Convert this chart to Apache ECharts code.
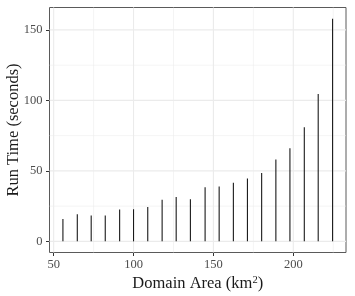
<!DOCTYPE html>
<html>
<head>
<meta charset="utf-8">
<script src="https://cdn.jsdelivr.net/npm/echarts@6/dist/echarts.min.js"></script>
<style>
html,body{margin:0;padding:0;background:#fff;}
#chart{width:355px;height:296px;}
</style>
</head>
<body>
<div id="chart"></div>
<script>
// Data
var domainArea = [55.8, 64.8, 73.5, 82.3, 91.3, 100.0, 108.9, 117.9, 126.7, 135.6, 144.8, 153.6, 162.5, 171.3, 180.2, 189.1, 197.9, 206.9, 215.6, 224.6];
var runTime    = [15.8, 19.2, 18.3, 18.3, 22.6, 22.8, 24.3, 29.6, 31.4, 29.9, 38.4, 38.9, 41.5, 44.6, 48.5, 58.0, 66.0, 81.0, 104.6, 158.0];

// Tick / grid values
var xTicks = [50, 100, 150, 200];
var xMinor = [75, 125, 175, 225];
var yTicks = [0, 50, 100, 150];
var yMinor = [25, 75, 125];

var xMin = 47.4, xMax = 233.0;
var yMin = -7.9, yMax = 165.9;

var chart = echarts.init(document.getElementById('chart'), null, {renderer: 'canvas'});

var points = domainArea.map(function (x, i) { return [x, runTime[i]]; });

// [value, direction (0 = vertical line at x, 1 = horizontal line at y), width]
var gridItems = [];
xMinor.forEach(function (v) { gridItems.push([v, 0, 0.55]); });
yMinor.forEach(function (v) { gridItems.push([v, 1, 0.55]); });
xTicks.forEach(function (v) { gridItems.push([v, 0, 1.1]); });
yTicks.forEach(function (v) { gridItems.push([v, 1, 1.1]); });

var font = '"Liberation Serif", "DejaVu Serif", serif';

chart.setOption({
  animation: false,
  backgroundColor: '#ffffff',
  grid: {left: 49.5, right: 9, top: 7.5, bottom: 43.5, containLabel: false, outerBoundsMode: 'none',
         show: true, borderColor: '#5a5a5a', borderWidth: 1, backgroundColor: '#fff'},
  xAxis: {
    type: 'value', min: xMin, max: xMax,
    name: '{t|Domain Area (km}{s|2}{t|)}',
    nameLocation: 'middle', nameGap: 22, nameMoveOverlap: false,
    nameTextStyle: {
      verticalAlign: 'top',
      rich: {
        t: {fontFamily: font, fontSize: 16.5, color: '#1a1a1a', lineHeight: 18},
        s: {fontFamily: font, fontSize: 10.5, color: '#1a1a1a', lineHeight: 18, verticalAlign: 'top'}
      }
    },
    axisLine: {show: false, onZero: false},
    axisTick: {show: true, inside: false, customValues: xTicks, length: 3.5, lineStyle: {color: '#333', width: 1}},
    axisLabel: {customValues: xTicks, fontFamily: font, fontSize: 12.5, color: '#4d4d4d', margin: 6},
    splitLine: {show: false}
  },
  yAxis: {
    type: 'value', min: yMin, max: yMax,
    name: 'Run Time (seconds)',
    nameLocation: 'middle', nameGap: 27, nameRotate: 90, nameMoveOverlap: false,
    nameTextStyle: {fontFamily: font, fontSize: 16.5, color: '#1a1a1a'},
    axisLine: {show: false, onZero: false},
    axisTick: {show: true, inside: false, customValues: yTicks, length: 3.5, lineStyle: {color: '#333', width: 1}},
    axisLabel: {customValues: yTicks, fontFamily: font, fontSize: 12.5, color: '#4d4d4d', margin: 7},
    splitLine: {show: false}
  },
  series: [
    {
      type: 'custom', silent: true, z: 1,
      data: gridItems,
      renderItem: function (params, api) {
        var v = api.value(0), dir = api.value(1), w = api.value(2);
        var cs = params.coordSys;
        var shape;
        if (dir === 0) {
          var px = api.coord([v, 0])[0];
          shape = {x1: px, y1: cs.y, x2: px, y2: cs.y + cs.height};
        } else {
          var py = api.coord([xMin, v])[1];
          shape = {x1: cs.x, y1: py, x2: cs.x + cs.width, y2: py};
        }
        return {type: 'line', shape: shape, style: {stroke: '#ebebeb', lineWidth: w}};
      }
    },
    {
      type: 'custom', z: 3,
      data: points,
      renderItem: function (params, api) {
        var top = api.coord([api.value(0), api.value(1)]);
        var bot = api.coord([api.value(0), 0]);
        return {type: 'line', shape: {x1: top[0], y1: top[1], x2: bot[0], y2: bot[1]}, style: {stroke: '#1a1a1a', lineWidth: 1.1}};
      }
    }
  ]
});
</script>
</body>
</html>
